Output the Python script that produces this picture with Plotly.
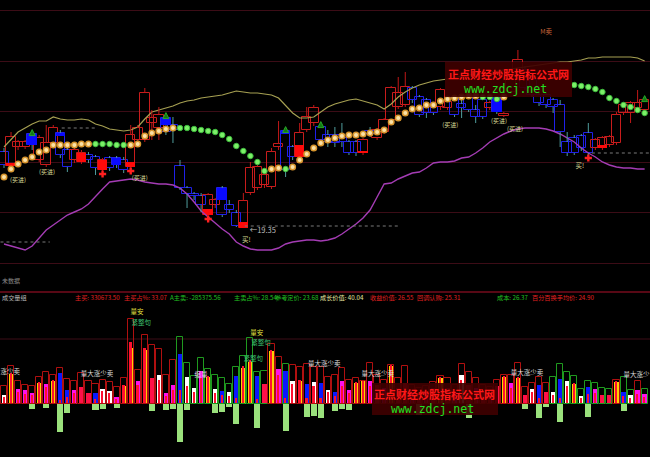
import plotly.graph_objects as go

N = None

# ---------------- price panel data ----------------
opens = [23.15, 22.45, 23.40, 23.40, 24.05, 22.75, 22.50, 23.60, 24.10, 23.25,
         22.75, 22.65, 23.00, 22.90, 22.25, 22.85, 22.85, 22.75, 22.40, 23.75,
         23.75, 24.60, 24.35, 24.85, 24.50, 22.45, 21.35, 21.05, 20.95, 20.00,
         20.50, 21.35, 20.50, 20.10, 19.35, 21.10, 21.35, 21.50, 21.40, 23.40,
         24.20, 23.40, 22.90, 24.25, 24.60, 24.40, 24.00, 24.00, 23.85, 23.65,
         23.65, 23.10, 24.20, 23.85, 24.15, 24.75, 25.40, 25.50, 26.35, 25.90,
         25.75, 25.40, 25.40, 25.35, 25.85, 25.55, 25.90, 25.25, 25.75, 25.35,
         25.85, 24.95, 26.15, 27.00, 27.25, 26.75, 26.00, 26.00, 25.75, 25.50,
         23.65, 23.85, 23.95, 24.10, 23.35, 23.35, 23.50, 23.60, 25.10, 25.10,
         25.35, 25.25]
highs = [23.35, 24.15, 23.75, 23.75, 24.15, 24.00, 24.50, 24.50, 24.25, 23.35,
         23.35, 23.25, 23.15, 23.00, 22.85, 22.95, 22.95, 22.90, 24.50, 24.50,
         26.35, 25.25, 25.40, 25.00, 24.90, 22.75, 21.45, 21.15, 21.10, 21.10,
         20.85, 21.45, 20.75, 20.25, 21.10, 22.65, 22.50, 22.15, 23.35, 24.70,
         24.30, 23.50, 24.60, 25.40, 25.50, 24.55, 24.25, 24.40, 24.60, 23.75,
         23.75, 23.85, 24.40, 24.35, 24.85, 26.45, 26.90, 27.15, 26.45, 26.00,
         25.85, 25.50, 26.35, 25.75, 25.95, 25.85, 26.00, 25.50, 25.85, 25.70,
         25.95, 25.15, 27.25, 28.25, 27.45, 26.95, 26.15, 26.10, 25.85, 25.75,
         24.15, 24.00, 24.05, 24.60, 23.85, 23.95, 24.00, 25.15, 25.60, 25.70,
         26.25, 25.85]
lows = [22.35, 22.25, 23.25, 23.30, 23.25, 22.65, 22.40, 23.45, 22.85, 22.15,
        22.60, 22.55, 22.60, 22.00, 22.15, 22.20, 22.35, 22.10, 22.30, 23.60,
        23.65, 23.75, 23.75, 24.00, 23.60, 21.25, 20.35, 20.75, 20.15, 19.90,
        20.35, 19.90, 20.10, 19.40, 19.35, 21.00, 21.25, 21.35, 21.30, 23.25,
        21.90, 22.75, 22.80, 24.15, 24.45, 23.60, 23.40, 23.40, 23.40, 23.00,
        22.95, 23.00, 23.90, 23.75, 24.05, 24.65, 25.30, 25.40, 25.60, 24.90,
        24.85, 25.00, 25.25, 25.25, 24.90, 24.85, 25.15, 24.60, 24.80, 25.25,
        25.05, 24.90, 26.05, 26.85, 26.25, 25.90, 25.45, 25.35, 25.10, 23.40,
        22.95, 23.00, 23.20, 22.95, 23.25, 23.25, 23.40, 23.50, 25.00, 24.60,
        25.25, 25.15]
closes = [22.50, 23.90, 23.65, 23.65, 23.50, 23.85, 23.60, 24.35, 23.00, 22.40,
          23.25, 23.10, 22.75, 22.35, 22.75, 22.35, 22.50, 22.25, 24.00, 24.35,
          26.10, 24.85, 25.00, 24.15, 24.25, 21.35, 21.05, 20.95, 20.50, 21.00,
          20.75, 20.00, 20.25, 19.45, 20.70, 22.35, 22.40, 22.00, 23.15, 23.55,
          22.25, 22.90, 24.10, 24.90, 25.35, 23.75, 23.65, 23.60, 23.65, 23.10,
          23.10, 23.75, 24.05, 24.25, 24.75, 26.35, 26.10, 26.40, 25.75, 25.00,
          25.10, 25.10, 26.25, 25.65, 25.00, 25.35, 25.25, 24.90, 24.90, 25.60,
          25.15, 25.05, 27.15, 27.75, 26.35, 26.00, 25.60, 25.50, 25.40, 24.15,
          23.10, 23.10, 23.35, 23.10, 23.75, 23.85, 23.90, 25.00, 25.50, 25.60,
          25.60, 25.75]
# solid (filled) part of some candle bodies
fill_hi = [N, 22.60, N, N, 24.05, N, N, N, 24.10, N,
           N, 23.10, N, N, 22.75, N, 22.85, N, 22.65, N,
           N, N, N, 24.85, N, N, N, N, N, 20.30,
           N, 21.35, N, N, 19.65, N, N, N, N, N,
           24.20, N, 23.50, N, N, N, N, N, N, N,
           N, 23.20, N, N, N, N, N, N, N, N,
           N, N, N, N, N, N, N, N, N, N,
           25.85, N, N, N, N, N, N, N, N, N,
           N, N, N, N, N, 23.50, N, N, N, N,
           N, N]
fill_lo = [N, 22.45, N, N, 23.50, N, N, N, 23.95, N,
           N, 22.65, N, N, 22.25, N, 22.50, N, 22.40, N,
           N, N, N, 24.50, N, N, N, N, N, 20.00,
           N, 20.75, N, N, 19.35, N, N, N, N, N,
           24.05, N, 22.90, N, N, N, N, N, N, N,
           N, 23.10, N, N, N, N, N, N, N, N,
           N, N, N, N, N, N, N, N, N, N,
           25.15, N, N, N, N, N, N, N, N, N,
           N, N, N, N, N, 23.35, N, N, N, N,
           N, N]
# stop-and-reverse dots and their colour kind (o = orange, g = green, - = none)
sar = [21.90, 22.30, 22.55, 22.75, 22.90, 23.15, 23.25, 23.50, 23.50, 23.50,
       23.50, 23.55, 23.55, 23.55, 23.55, 23.55, 23.50, 23.50, 23.50, 23.55,
       23.95, 24.10, 24.20, 24.30, 24.35, 24.35, 24.35, 24.30, 24.25, 24.20,
       24.15, 24.00, 23.80, 23.45, 23.20, 22.95, 22.65, 22.20, 22.30, 22.35,
       22.30, 22.40, 22.75, 23.05, 23.35, 23.60, 23.75, 23.85, 23.95, 24.00,
       24.00, 24.05, 24.10, 24.15, 24.25, 24.65, 24.85, 25.10, 25.30, 25.35,
       25.50, 25.50, 25.70, 25.80, 25.85, 25.90, 25.95, 25.95, 25.90, 25.90,
       25.80, 25.90, N, N, N, N, N, N, N, N,
       N, 26.50, 26.45, 26.40, 26.30, 26.15, 25.85, 25.70, 25.50, 25.40,
       25.25, 25.10]
sar_kind = list("ooooooooooooo" + "ggggg" + "ooooooo" + "ggggggggggggg" + "oo" + "g"
                + "ooooooooooooooooooooooooooo" + "ggg" + "o" + "---------" + "ggggggggggg")
upper_band = [23.40, 23.80, 24.15, 24.35, 24.55, 24.70, 24.70, 24.90, 24.80, 24.75,
              24.75, 24.80, 24.75, 24.55, 24.45, 24.30, 24.25, 24.20, 24.25, 24.40,
              24.80, 25.15, 25.25, 25.35, 25.45, 25.60, 25.70, 25.75, 25.85, 25.90,
              25.95, 26.00, 26.10, 26.20, 26.15, 26.10, 26.10, 26.05, 26.00, 25.85,
              25.45, 25.10, 24.85, 24.85, 24.90, 25.15, 25.40, 25.55, 25.65, 25.75,
              25.80, 25.70, 25.60, 25.50, 25.30, 25.55, 25.90, 26.15, 26.35, 26.50,
              26.60, 26.70, 26.75, 26.80, 26.85, 26.95, 27.00, 27.05, 27.10, 27.15,
              27.20, 27.25, 27.30, 27.35, 27.40, 27.45, 27.50, 27.55, 27.60, 27.65,
              27.65, 27.70, 27.75, 27.85, 27.85, 27.90, 27.90, 27.90, 27.90, 27.90,
              27.85, 27.70]
lower_band = [18.55, 18.45, 18.35, 18.25, 18.45, 18.85, 19.25, 19.50, 19.75, 20.00,
              20.15, 20.30, 20.55, 20.95, 21.30, 21.65, 21.70, 21.75, 21.80, 21.75,
              21.65, 21.60, 21.55, 21.55, 21.50, 21.35, 21.05, 20.65, 20.20, 19.90,
              19.60, 19.30, 19.05, 18.65, 18.45, 18.30, 18.25, 18.25, 18.25, 18.35,
              18.55, 18.65, 18.70, 18.75, 18.75, 18.70, 18.75, 18.85, 19.05, 19.30,
              19.55, 19.85, 20.25, 20.90, 21.55, 21.60, 21.80, 21.95, 22.10, 22.15,
              22.35, 22.60, 22.65, 22.65, 22.70, 22.85, 22.90, 23.10, 23.35, 23.65,
              23.85, 24.05, 24.20, 24.30, 24.35, 24.35, 24.35, 24.30, 24.20, 24.05,
              23.85, 23.65, 23.35, 23.10, 22.90, 22.65, 22.50, 22.40, 22.35, 22.35,
              22.30, 22.30]
arrow_idx = [4, 23, 40, 45, 91]          # green up-arrows above the high
cross_idx = [14, 18, 29, 83]             # red crosses below the low
buyin_x = [2.0, 6.1, 19.3, 63.4, 70.3, 72.6]
buyin_p = [21.75, 22.15, 21.85, 24.50, 24.70, 24.30]
buy_x = [34.4, 81.8]
buy_p = [18.75, 22.45]
low_mark_x, low_mark_p, low_mark_text = 34.9, 19.20, "←19.35"
sell_x, sell_p, sell_text = 77.0, 29.15, "M卖"
level_p = [24.35, 18.65, 19.45, 23.10]
level_x0 = [8.2, -0.5, 34.2, 83.5]
level_x1 = [13.2, 6.5, 56.3, 91.8]

# ---------------- volume panel data ----------------
vol_outline = [18, 38, 23, 19, 18, 27, 32, 29, 36, 25,
               23, 31, 23, 20, 24, 22, 17, 26, 85, 34,
               69, 59, 55, 29, 44, 67, 41, 28, 46, 35,
               29, 26, 20, 37, 48, 66, 32, 33, 60, 47,
               40, 39, 37, 40, 37, 37, 27, 29, 36, 24,
               26, 23, 41, 29, 24, 39, 26, 38, 19, 16,
               18, 22, 28, 26, 19, 40, 32, 26, 19, 17,
               24, 29, 29, 41, 17, 21, 27, 21, 27, 40,
               32, 28, 15, 23, 21, 16, 15, 24, 27, 14,
               23, 15]
vol_edge = list("r" * 25 + "g" * 13 + "rr" + "g" + "r" * 37 + "g" * 9 + "r" + "gg" + "r" + "g")
vol_inner = [9, 30, 15, 14, 11, 21, 20, 23, 31, 14,
             14, 17, 11, 11, 15, 13, 7, 18, 56, 23,
             54, 26, 29, 11, 19, 50, 27, 16, 33, 27,
             15, 13, 12, 28, 36, 42, 28, 20, 53, 35,
             33, 23, 23, 20, 22, 21, 14, 12, 23, 14,
             21, 23, 23, 19, 16, 38, 16, 21, 12, 10,
             12, 16, 26, 16, 12, 29, 19, 16, 12, 11,
             18, 27, 21, 26, 9, 15, 19, 12, 12, 25,
             23, 20, 8, 17, 15, 9, 9, 22, 12, 9,
             14, 10]
vol_kind = list("WYMMMYMYBB" "MRRBWWMYYM" "YRWMMBWWMY" "WBWBYYBRYM" "BWYBWBWBMM"
                "YYMRMYRRMR" "MRYRMWRMRM" "RYMYRWBRWB" "WYWBMRRYBW" "MM")
vol_core = [7, 31, 12, 10, 9, 22, 17, 24, 4, 7,
            11, N, N, 5, 13, 11, 5, 19, 62, 19,
            56, N, 24, 8, 14, 14, 18, 12, 26, 28,
            11, 9, 8, 6, 38, 44, 5, N, 54, 29,
            6, 20, 24, 6, 18, 6, 12, 8, 18, 11,
            22, 24, 18, N, 12, 39, N, 16, 9, N,
            8, N, 27, N, 8, 24, N, 12, N, 8,
            N, 28, 16, 27, N, 12, 6, N, 9, 6,
            18, 21, 6, 10, 11, N, N, 23, 8, 6,
            10, 7]
vol_neg = [N, N, N, N, -5, N, -4, N, -28, -9,
           N, N, N, -6, -5, N, -4, N, N, N,
           N, -7, N, -6, -5, -38, -6, N, N, N,
           -9, -8, -3, -20, N, N, -24, N, N, N,
           -27, N, N, -13, -12, -14, N, -7, -5, -6,
           N, N, N, N, N, N, N, N, N, -11,
           N, N, N, N, N, N, -14, N, N, N,
           N, N, N, N, -5, N, -14, -3, N, -18,
           N, N, N, -13, N, N, N, N, -7, N,
           N, N]
vlabel_text = ["量安", "紧整句", "量安", "紧整句", "紧整句", "量大涨少卖",
               "量大涨少卖", "缩量", "量大涨少卖", "量大涨少卖"]
vlabel_x = [18.9, 19.5, 35.9, 36.5, 35.4, 13.2, 45.5, 28.0, 53.1, 74.3]
vlabel_v = [92, 81, 71, 61, 45, 30, 40, 29, 30, 31]
vlabel_kind = ["y", "g", "y", "g", "g", "w", "w", "p", "w", "w"]
edge_label_left, edge_label_right = "涨少卖", "量大涨少"
edge_label_v = [32, 29]

info_text = ["成交量组", "主买: 330673.50", "主买占%: 33.07", "A主卖: -285375.56",
             "主卖占%: 28.54", "参考定价: 23.68", "成长价值: 40.04", "收益价值: 26.55",
             "回调认购: 25.31", "成本: 26.37", "百分百换手均价: 24.90"]
info_color = ["#bbbbbb", "#e02020", "#e02020", "#22c022", "#22c022", "#22c022",
              "#e8e8a0", "#e02020", "#e02020", "#22c022", "#e02020"]
info_px = [0, 73, 122, 168, 232, 273, 318, 368, 415, 495, 530]

# ---------------- figure ----------------
W, H = 650, 457
FONT = "Noto Sans CJK SC"
idx = list(range(len(opens)))
fig = go.Figure()

# price panel: bands
fig.add_trace(go.Scatter(x=idx, y=upper_band, mode="lines",
                         line=dict(color="#a6a052", width=1.2), hoverinfo="skip"))
fig.add_trace(go.Scatter(x=idx, y=lower_band, mode="lines",
                         line=dict(color="#a43cb4", width=1.4), hoverinfo="skip"))

# dotted level lines
for p, a, b in zip(level_p, level_x0, level_x1):
    fig.add_trace(go.Scatter(x=[a, b], y=[p, p], mode="lines",
                             line=dict(color="#7a7a7a", width=1, dash="dot"), hoverinfo="skip"))

# wicks
def wicks(ids):
    xs, ys = [], []
    for i in ids:
        top, bot = max(opens[i], closes[i]), min(opens[i], closes[i])
        xs += [i, i, None, i, i, None]
        ys += [highs[i], top, None, bot, lows[i], None]
    return xs, ys

up = [i for i in idx if closes[i] >= opens[i]]
dn = [i for i in idx if closes[i] < opens[i]]
wx, wy = wicks(up)
fig.add_trace(go.Scatter(x=wx, y=wy, mode="lines", line=dict(color="#c01818", width=1),
                         hoverinfo="skip"))
wx, wy = wicks(dn)
fig.add_trace(go.Scatter(x=wx, y=wy, mode="lines", line=dict(color="#4f9c9c", width=1),
                         hoverinfo="skip"))

# hollow bodies
body_base = [min(o, c) for o, c in zip(opens, closes)]
body_h = [max(abs(c - o), 0.04) for o, c in zip(opens, closes)]
body_col = ["#c81c1c" if c >= o else "#2020e8" for o, c in zip(opens, closes)]
fig.add_trace(go.Bar(x=idx, y=body_h, base=body_base, width=1.35,
                     marker=dict(color="rgba(0,0,0,0)", line=dict(color=body_col, width=1)),
                     hoverinfo="skip"))
# solid parts
fx = [i for i in idx if fill_hi[i] is not None]
fig.add_trace(go.Bar(x=fx, y=[fill_hi[i] - fill_lo[i] for i in fx], base=[fill_lo[i] for i in fx],
                     width=1.35,
                     marker=dict(color=["#ff0a0a" if closes[i] >= opens[i] else "#0a0aff" for i in fx],
                                 line=dict(width=0)), hoverinfo="skip"))

# SAR dots
ox = [i for i in idx if sar_kind[i] == "o"]
gx = [i for i in idx if sar_kind[i] == "g"]
fig.add_trace(go.Scatter(x=ox, y=[sar[i] for i in ox], mode="markers",
                         marker=dict(size=5.5, color="#fbe2a8", line=dict(color="#d8962e", width=1.5)),
                         hoverinfo="skip"))
fig.add_trace(go.Scatter(x=gx, y=[sar[i] for i in gx], mode="markers",
                         marker=dict(size=5.5, color="#7cf068", line=dict(color="#3cb83c", width=1)),
                         hoverinfo="skip"))

# signals
fig.add_trace(go.Scatter(x=arrow_idx, y=[highs[i] + 0.12 for i in arrow_idx], mode="markers",
                         marker=dict(symbol="arrow-up", size=6, color="#137a13",
                                     line=dict(color="#28a828", width=1)), hoverinfo="skip"))
fig.add_trace(go.Scatter(x=cross_idx, y=[lows[i] - 0.1 for i in cross_idx], mode="markers",
                         marker=dict(symbol="cross", size=6, color="#ff2020", line=dict(width=0)),
                         hoverinfo="skip"))
fig.add_trace(go.Scatter(x=buyin_x, y=buyin_p, mode="text", text=["(买进)"] * len(buyin_x),
                         textfont=dict(family=FONT, size=6, color="#dcdc98"), hoverinfo="skip"))
fig.add_trace(go.Scatter(x=buy_x, y=buy_p, mode="text", text=["买!"] * len(buy_x),
                         textfont=dict(family=FONT, size=6.5, color="#dcdc98"), hoverinfo="skip"))
fig.add_trace(go.Scatter(x=[low_mark_x], y=[low_mark_p], mode="text", text=[low_mark_text],
                         textposition="middle right",
                         textfont=dict(family=FONT, size=7.5, color="#bdbdbd"), hoverinfo="skip"))
fig.add_trace(go.Scatter(x=[sell_x], y=[sell_p], mode="text", text=[sell_text],
                         textfont=dict(family=FONT, size=6.5, color="#c8643a"), hoverinfo="skip"))

# volume panel
inner_col = {"W": "#ffffff", "Y": "#ffd000", "M": "#ff10ec", "B": "#0a18ff", "R": "#ff1048"}
fig.add_trace(go.Bar(x=idx, y=vol_inner, width=0.62, yaxis="y2",
                     marker=dict(color=[inner_col[k] for k in vol_kind], line=dict(width=0)),
                     hoverinfo="skip"))
cx = [i for i in idx if vol_core[i] is not None]
fig.add_trace(go.Bar(x=cx, y=[vol_core[i] for i in cx], width=0.24, yaxis="y2",
                     marker=dict(color="#ff1030", line=dict(width=0)), hoverinfo="skip"))
fig.add_trace(go.Bar(x=idx, y=vol_outline, width=0.86, yaxis="y2",
                     marker=dict(color="rgba(0,0,0,0)",
                                 line=dict(color=["#b01010" if e == "r" else "#1f9a1f" for e in vol_edge],
                                           width=1)), hoverinfo="skip"))
nx = [i for i in idx if vol_neg[i] is not None]
fig.add_trace(go.Bar(x=nx, y=[vol_neg[i] for i in nx], width=0.86, yaxis="y2",
                     marker=dict(color="#9ae07c", line=dict(width=0)), hoverinfo="skip"))
lab_col = {"y": "#e6e040", "g": "#3cc070", "w": "#d8d8d8", "p": "#e8c8e8"}
fig.add_trace(go.Scatter(x=vlabel_x, y=vlabel_v, mode="text", text=vlabel_text, yaxis="y2",
                         textfont=dict(family=FONT, size=6.5, color=[lab_col[k] for k in vlabel_kind]),
                         hoverinfo="skip"))
fig.add_trace(go.Scatter(x=[-0.5, 91.7], y=edge_label_v, mode="text",
                         text=[edge_label_left, edge_label_right], yaxis="y2",
                         textposition=["middle right", "middle left"],
                         textfont=dict(family=FONT, size=6.5, color="#d8d8d8"), hoverinfo="skip"))

# layout
fig.update_layout(
    width=W, height=H, margin=dict(l=0, r=0, t=0, b=0),
    paper_bgcolor="#000000", plot_bgcolor="#000000",
    showlegend=False, barmode="overlay", bargap=0,
    font=dict(family=FONT, size=7, color="#cccccc"),
    xaxis=dict(range=[-0.568, 91.761], visible=False, fixedrange=True),
    yaxis=dict(domain=[1 - 285 / H, 1], range=[16.5, 30.75], showticklabels=False,
               ticks="", zeroline=False, showgrid=True, gridcolor="#3c0c16", gridwidth=1,
               tick0=17.6, dtick=2.525),
    yaxis2=dict(domain=[0, 1 - 292 / H], range=[-53, 112], showticklabels=False,
                ticks="", zeroline=False, showgrid=False, anchor="x"),
)

shapes = [
    dict(type="line", xref="paper", yref="paper", x0=0, x1=1, y0=1 - 292 / H, y1=1 - 292 / H,
         line=dict(color="#b0102a", width=1)),
    dict(type="line", xref="paper", yref="y2", x0=0, x1=1, y0=65, y1=65,
         line=dict(color="#3c0c16", width=1), layer="below"),
    dict(type="rect", xref="paper", yref="paper", x0=445 / W, x1=572 / W,
         y0=1 - 97 / H, y1=1 - 62 / H, fillcolor="rgba(62,0,0,0.92)", line=dict(width=0),
         layer="above"),
    dict(type="rect", xref="paper", yref="paper", x0=372 / W, x1=498 / W,
         y0=1 - 415 / H, y1=1 - 383 / H, fillcolor="rgba(62,0,0,0.92)", line=dict(width=0),
         layer="above"),
]
fig.update_layout(shapes=shapes)

ann = []
for t, c, px in zip(info_text, info_color, info_px):
    ann.append(dict(x=px / W, y=1 - 297 / H, xref="paper", yref="paper", text=t,
                    showarrow=False, xanchor="left", yanchor="middle",
                    font=dict(family=FONT, size=6.2, color=c)))
ann.append(dict(x=0, y=1 - 280 / H, xref="paper", yref="paper", text="未数据", showarrow=False,
                xanchor="left", yanchor="middle", font=dict(family=FONT, size=6, color="#8a8a8a")))
for cxp, cy_red, cy_green in [(508, 74, 89), (435, 394, 409)]:
    ann.append(dict(x=cxp / W, y=1 - cy_red / H, xref="paper", yref="paper",
                    text="<b>正点财经炒股指标公式网</b>", showarrow=False,
                    xanchor="center", yanchor="middle",
                    font=dict(family=FONT, size=11, color="#ff1818")))
    ann.append(dict(x=(cxp - 3) / W, y=1 - cy_green / H, xref="paper", yref="paper",
                    text="www.zdcj.net", showarrow=False,
                    xanchor="center", yanchor="middle",
                    font=dict(family="DejaVu Sans Mono", size=11.5, color="#22e022")))
fig.update_layout(annotations=ann)

fig.write_html("out.html", config={"displayModeBar": False},
               post_script="document.body.style.margin='0';"
                           "document.body.style.overflow='hidden';")
